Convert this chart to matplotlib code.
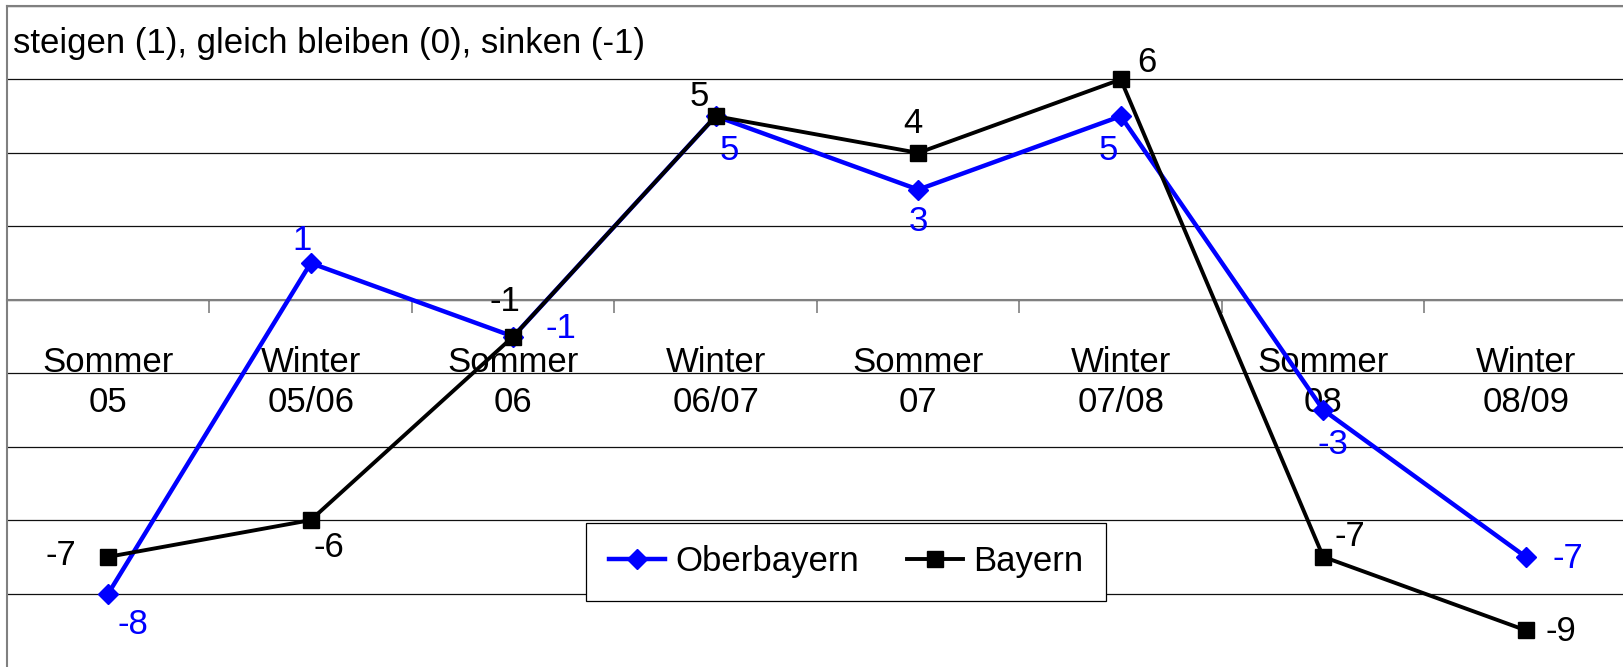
import matplotlib
matplotlib.use("Agg")
import matplotlib.pyplot as plt

plt.rcParams['font.family'] = ['Liberation Sans', 'DejaVu Sans']

# Daten
seasons = ["Sommer", "Winter", "Sommer", "Winter", "Sommer", "Winter", "Sommer", "Winter"]
years = ["05", "05/06", "06", "06/07", "07", "07/08", "08", "08/09"]
oberbayern = [-8, 1, -1, 5, 3, 5, -3, -7]
bayern = [-7, -6, -1, 5, 4, 6, -7, -9]

# Beschriftungs-Offsets (Punkte)
ob_off = [(18, -22), (-6, 16), (34, 6), (10, -25), (0, -23), (-9, -25), (7, -25), (30, -1)]
by_off = [(-34, 1), (13, -20), (-6, 25), (-12, 14), (-4, 21), (19, 12), (19, 15), (25, -1)]

BLUE = "#0000FF"
FS = 25

fig = plt.figure(figsize=(16.24, 6.67), dpi=100)
ax = fig.add_axes([7 / 1624, 0, 1620 / 1624, 661 / 667])

x = list(range(len(years)))

ax.plot(x, oberbayern, color=BLUE, lw=3.2, marker="D", ms=10.5, label="Oberbayern", zorder=4)
ax.plot(x, bayern, color="black", lw=2.8, marker="s", ms=12, label="Bayern", zorder=5)

for xi, v, off in zip(x, oberbayern, ob_off):
    ax.annotate(str(v), (xi, v), xytext=off, textcoords="offset points",
                ha="center", va="center", fontsize=FS, color=BLUE, zorder=6)
for xi, v, off in zip(x, bayern, by_off):
    ax.annotate(str(v), (xi, v), xytext=off, textcoords="offset points",
                ha="center", va="center", fontsize=FS, color="black", zorder=6)

# Kategorien unter der Nulllinie
for xi, s, y in zip(x, seasons, years):
    ax.text(xi, -1.97, s, ha="center", va="baseline", fontsize=FS, zorder=1)
    ax.text(xi, -3.05, y, ha="center", va="baseline", fontsize=FS, zorder=1)

ax.text(-0.47, 6.73, "steigen (1), gleich bleiben (0), sinken (-1)",
        ha="left", va="baseline", fontsize=FS)

ax.set_xlim(-0.5, 7.5)
ax.set_ylim(-10, 8)
ax.set_yticks(range(-8, 9, 2))
ax.yaxis.grid(True, color="#101010", lw=0.9)
ax.set_axisbelow(True)
ax.tick_params(axis="y", length=0, labelleft=False)

ax.set_xticks([i + 0.5 for i in range(-1, 8)])
ax.tick_params(axis="x", direction="out", length=9, width=1.2, color="#808080", labelbottom=False)
ax.spines["bottom"].set_position(("data", 0))
for side in ["bottom", "left", "top"]:
    ax.spines[side].set_color("#808080")
    ax.spines[side].set_linewidth(1.5)
ax.spines["right"].set_visible(False)

leg = ax.legend(loc="center", bbox_to_anchor=(0.518, 0.159), ncol=2, fontsize=FS,
                frameon=True, fancybox=False, edgecolor="black", framealpha=1,
                handlelength=1.6, handletextpad=0.3, columnspacing=1.4,
                borderpad=0.65, borderaxespad=0)
leg.get_frame().set_linewidth(0.9)
leg.set_zorder(3)

fig.savefig("out.png", dpi=100)
